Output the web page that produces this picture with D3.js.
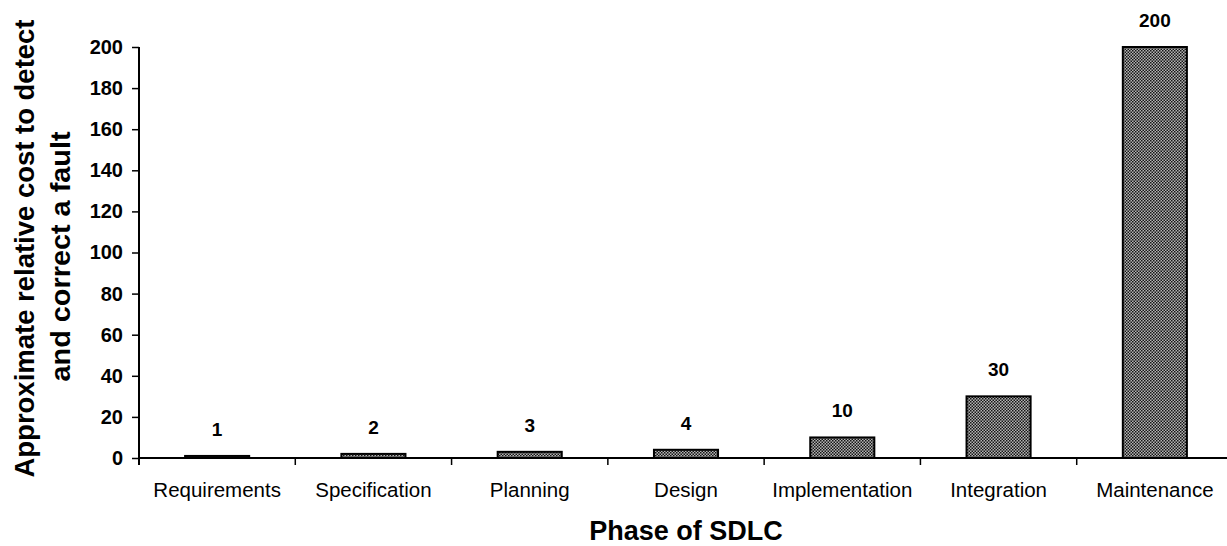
<!DOCTYPE html>
<html>
<head>
<meta charset="utf-8">
<script src="https://cdn.jsdelivr.net/npm/d3@7"></script>
<style>
  body { margin: 0; background: #fff; }
  text { font-family: "Liberation Sans", Arial, sans-serif; }
</style>
</head>
<body>
<div id="chart"></div>
<script>
// Chart data
const phases = ["Requirements", "Specification", "Planning", "Design", "Implementation", "Integration", "Maintenance"];
const costs = [1, 2, 3, 4, 10, 30, 200];
const yTicks = [0, 20, 40, 60, 80, 100, 120, 140, 160, 180, 200];

const W = 1227, H = 546;
const margin = {top: 47, right: -6, bottom: 88, left: 139};
const width = W - margin.left - margin.right,
      height = H - margin.top - margin.bottom;

const root = d3.select("#chart").append("svg")
    .attr("width", W)
    .attr("height", H);

// crosshatch fill
const pat = root.append("defs").append("pattern")
    .attr("id", "hatch")
    .attr("patternUnits", "userSpaceOnUse")
    .attr("width", 3)
    .attr("height", 3);
pat.append("rect").attr("width", 3).attr("height", 3).attr("fill", "#b4b4b4");
pat.append("rect").attr("x", 0).attr("y", 0).attr("width", 1.5).attr("height", 1.5).attr("fill", "#151515");
pat.append("rect").attr("x", 1.5).attr("y", 1.5).attr("width", 1.5).attr("height", 1.5).attr("fill", "#151515");

const svg = root.append("g")
    .attr("transform", `translate(${margin.left},${margin.top})`);

const x = d3.scaleBand()
    .domain(phases)
    .range([0, width])
    .paddingInner(0.59)
    .paddingOuter(0.295);

const y = d3.scaleLinear()
    .domain([0, 200])
    .range([height, 0]);

// bars
svg.selectAll(".bar")
    .data(phases)
    .join("rect")
    .attr("x", d => x(d))
    .attr("y", (d, i) => y(costs[i]))
    .attr("width", x.bandwidth())
    .attr("height", (d, i) => height - y(costs[i]))
    .attr("fill", "url(#hatch)")
    .attr("stroke", "#000")
    .attr("stroke-width", 2);

// value labels
svg.selectAll(".val")
    .data(phases)
    .join("text")
    .attr("x", d => x(d) + x.bandwidth() / 2)
    .attr("y", (d, i) => y(costs[i]) - 20)
    .attr("text-anchor", "middle")
    .style("font-size", "19px")
    .style("font-weight", "bold")
    .text((d, i) => costs[i]);

// Y axis
const yAxis = svg.append("g")
    .call(d3.axisLeft(y).tickValues(yTicks).tickSize(7).tickPadding(9));
yAxis.select(".domain").attr("stroke-width", 2).attr("d", `M0,0V${height + 7}`);
yAxis.selectAll(".tick line").attr("stroke-width", 1.5);
yAxis.selectAll("text")
    .style("font-size", "20px")
    .style("font-weight", "bold")
    .style("font-family", "'Liberation Sans', Arial, sans-serif")
    .attr("fill", "#000");

// X axis
const step = x.step();
const xg = svg.append("g").attr("transform", `translate(0,${height})`);
xg.append("line")
    .attr("x1", 0).attr("x2", width)
    .attr("stroke", "#000").attr("stroke-width", 2);
xg.selectAll(".xtick")
    .data(phases.slice(1))
    .join("line")
    .attr("x1", d => x(d) - x.paddingInner() * step / 2)
    .attr("x2", d => x(d) - x.paddingInner() * step / 2)
    .attr("y1", 0).attr("y2", 7)
    .attr("stroke", "#000").attr("stroke-width", 1.5);
xg.selectAll(".xlab")
    .data(phases)
    .join("text")
    .attr("x", d => x(d) + x.bandwidth() / 2)
    .attr("y", 39)
    .attr("text-anchor", "middle")
    .style("font-size", "20.5px")
    .text(d => d);

// axis titles
svg.append("text")
    .attr("x", (x.range()[0] + x.range()[1]) / 2)
    .attr("y", height + 82)
    .attr("text-anchor", "middle")
    .style("font-size", "27px")
    .style("font-weight", "bold")
    .text("Phase of SDLC");

const yt = svg.append("text")
    .attr("transform", `translate(${-margin.left + 34},${height / 2 - 4}) rotate(-90)`)
    .attr("text-anchor", "middle")
    .style("font-size", "27px")
    .style("font-weight", "bold");
yt.append("tspan").attr("x", 0).attr("dy", 0)
    .attr("textLength", 458).attr("lengthAdjust", "spacingAndGlyphs")
    .text("Approximate relative cost to detect");
yt.append("tspan").attr("x", -8).attr("dy", 36)
    .attr("textLength", 250).attr("lengthAdjust", "spacingAndGlyphs")
    .text("and correct a fault");
</script>
</body>
</html>
